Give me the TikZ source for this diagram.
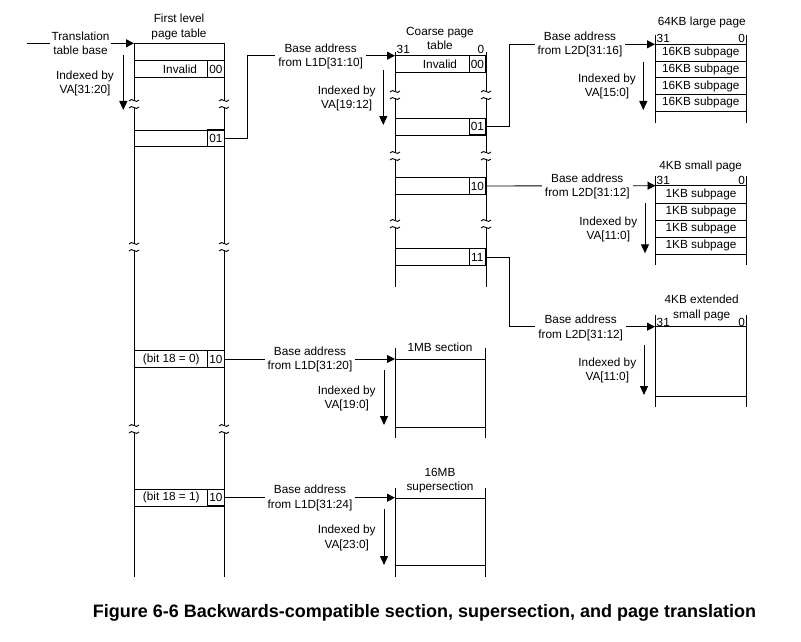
\documentclass[tikz,border=0pt]{standalone}
\usepackage{fontspec}
\setmainfont{Liberation Sans}
\usetikzlibrary{arrows.meta}
\newcommand{\tld}[2]{\draw[tline] ({#1-5},{#2+0.5}) .. controls ({#1-2},{#2-4}) and ({#1+2},{#2+4}) .. ({#1+5},{#2-0.5});}
\begin{document}
\begin{tikzpicture}[x=1pt,y=-1pt,
  every node/.style={font=\fontsize{11.8}{14.3}\selectfont, inner sep=0pt},
  tline/.style={line width=0.9pt, draw=black},
  conn/.style={line width=0.9pt, draw=black, -{Triangle[length=8pt,width=8pt]}},
  dnarrow/.style={line width=0.9pt, draw=black, -{Triangle[length=9pt,width=8pt]}},
  lbl/.style={fill=white, align=center, inner xsep=3pt, inner ysep=1pt},
  idx/.style={align=center},
  ttl/.style={align=center},
  cell/.style={draw=black, line width=0.9pt, minimum width=16.3pt, minimum height=16.4pt, inner sep=0pt},
  bitn/.style={inner sep=0pt}
]
\useasboundingbox (0,0) rectangle (801,642);

% ---------------- First level page table ----------------
\node[ttl] (fttitle) at (179,27) {First level\\page table};
\draw[tline] (134,43.3) -- (224,43.3);
\foreach \x in {134,224}{
  \draw[tline] (\x,43.3) -- (\x,100.5);
  \draw[tline] (\x,107.5) -- (\x,243.5);
  \draw[tline] (\x,250.5) -- (\x,425.5);
  \draw[tline] (\x,432.5) -- (\x,576.7);
  \tld{\x}{100.5}\tld{\x}{107.5}
  \tld{\x}{243.5}\tld{\x}{250.5}
  \tld{\x}{425.5}\tld{\x}{432.5}
}
\draw[tline] (134,60.7) rectangle (224,77.3);
\node (ftinv) at (180,69) {Invalid};
\node[cell] (ft00) at (215.85,69) {00};
\draw[tline] (134,130) rectangle (224,146);
\node[cell] (ft01) at (215.85,138) {01};
\draw[tline] (134,350.7) rectangle (224,367.3);
\node (ftb0) at (171.3,359) {(bit 18 = 0)};
\node[cell] (ft10a) at (215.85,359) {10};
\draw[tline] (134,489.3) rectangle (224,506);
\node (ftb1) at (171.3,497.7) {(bit 18 = 1)};
\node[cell] (ft10b) at (215.85,497.7) {10};

% translation table base
\coordinate (ttbstart) at (27,43.3);
\coordinate (ftin) at (134,43.3);
\draw[conn] (ttbstart) -- (ftin);
\node[lbl, inner xsep=1.5pt] (ttb) at (80.5,43) {Translation\\table base};
\coordinate (ftidxA) at (123.3,55);
\coordinate (ftidxB) at (123.3,110);
\draw[dnarrow] (ftidxA) -- (ftidxB);
\node[idx] (ftidx) at (85,83.2) {Indexed by\\VA[31:20]};

% ---------------- Coarse page table ----------------
\node[ttl] (cttitle) at (440,38.7) {Coarse page\\table};
\node[anchor=west] (ct31) at (396.5,49.5) {31};
\node[anchor=east] (ct0) at (484.5,49.5) {0};
\draw[tline] (395,55.7) -- (486,55.7);
\foreach \x in {395,486}{
  \draw[tline] (\x,51.7) -- (\x,91.5);
  \draw[tline] (\x,98.5) -- (\x,152.5);
  \draw[tline] (\x,159.5) -- (\x,220.5);
  \draw[tline] (\x,227.5) -- (\x,287.3);
  \tld{\x}{91.5}\tld{\x}{98.5}
  \tld{\x}{152.5}\tld{\x}{159.5}
  \tld{\x}{220.5}\tld{\x}{227.5}
}
\draw[tline] (395,55.7) rectangle (486,72.3);
\node (ctinv) at (440,64) {Invalid};
\node[cell] (ct00) at (477.35,64) {00};
\draw[tline] (395,118.3) rectangle (486,135);
\node[cell] (ct01) at (477.35,126.7) {01};
\draw[tline] (395,177.7) rectangle (486,194.3);
\node[cell] (ct10) at (477.35,186) {10};
\draw[tline] (395,248.3) rectangle (486,265.7);
\node[cell] (ct11) at (477.35,257) {11};

\coordinate (ctin) at (395,55.7);
\draw[conn] (ft01.east) -- (247.5,138) |- (ctin);
\node[lbl] (l1d1) at (320.7,56.2) {Base address\\from L1D[31:10]};
\coordinate (ctidxA) at (383.3,70);
\coordinate (ctidxB) at (383.3,125);
\draw[dnarrow] (ctidxA) -- (ctidxB);
\node[idx] (ctidx) at (346.7,98.7) {Indexed by\\VA[19:12]};

% ---------------- 64KB large page ----------------
\node[ttl] (lptitle) at (701.7,22.7) {64KB large page};
\node[anchor=west] (lp31) at (656.5,38.5) {31};
\node[anchor=east] (lp0) at (745.2,38.5) {0};
\draw[tline] (655,35) -- (655,123.3);
\draw[tline] (746.7,35) -- (746.7,123.3);
\foreach \y in {44.3,61,77.7,94.3,111}{\draw[tline] (655,\y) -- (746.7,\y);}
\node (lpa) at (700.8,52.7) {16KB subpage};
\node (lpb) at (700.8,69.4) {16KB subpage};
\node (lpc) at (700.8,86) {16KB subpage};
\node (lpd) at (700.8,102.7) {16KB subpage};
\coordinate (lpin) at (655,44.3);
\draw[conn] (ct01.east) -- (509.3,126.7) |- (lpin);
\node[lbl] (l2d1) at (580,44.7) {Base address\\from L2D[31:16]};
\coordinate (lpidxA) at (643.3,61.7);
\coordinate (lpidxB) at (643.3,110);
\draw[dnarrow] (lpidxA) -- (lpidxB);
\node[idx] (lpidx) at (607,86.3) {Indexed by\\VA[15:0]};

% ---------------- 4KB small page ----------------
\node[ttl] (sptitle) at (700.7,166.7) {4KB small page};
\node[anchor=west] (sp31) at (656.5,180.5) {31};
\node[anchor=east] (sp0) at (745.2,180.5) {0};
\draw[tline] (655.5,176) -- (655.5,265);
\draw[tline] (746.7,176) -- (746.7,265);
\foreach \y in {185.7,203.3,220.3,237.3,254.3}{\draw[tline] (655.5,\y) -- (746.7,\y);}
\node (spa) at (701,194.5) {1KB subpage};
\node (spb) at (701,211.8) {1KB subpage};
\node (spc) at (701,228.8) {1KB subpage};
\node (spd) at (701,245.8) {1KB subpage};
\coordinate (spin) at (655.5,185.7);
\draw[conn] (ct10.east) -- (spin);
\node[lbl] (l2d2) at (587.3,186.5) {Base address\\from L2D[31:12]};
\coordinate (spidxA) at (645,203.3);
\coordinate (spidxB) at (645,253.3);
\draw[dnarrow] (spidxA) -- (spidxB);
\node[idx] (spidx) at (608.3,229.5) {Indexed by\\VA[11:0]};

% ---------------- 4KB extended small page ----------------
\node[ttl] (eptitle) at (701.7,308) {4KB extended\\small page};
\node[anchor=west] (ep31) at (656.5,322.5) {31};
\node[anchor=east] (ep0) at (745.2,322.5) {0};
\draw[tline] (655,315) -- (655,406.7);
\draw[tline] (746.7,315) -- (746.7,406.7);
\draw[tline] (655,326.7) -- (746.7,326.7);
\draw[tline] (655,396) -- (746.7,396);
\coordinate (epin) at (655,326.7);
\draw[conn] (ct11.east) -- (509.3,257) |- (epin);
\node[lbl] (l2d3) at (580.7,328) {Base address\\from L2D[31:12]};
\coordinate (epidxA) at (644,345);
\coordinate (epidxB) at (644,395);
\draw[dnarrow] (epidxA) -- (epidxB);
\node[idx] (epidx) at (607.3,370.5) {Indexed by\\VA[11:0]};

% ---------------- 1MB section ----------------
\node[ttl] (s1title) at (440,347.5) {1MB section};
\draw[tline] (395,348) -- (395,438.3);
\draw[tline] (485.7,348) -- (485.7,438.3);
\draw[tline] (395,359) -- (485.7,359);
\draw[tline] (395,427.7) -- (485.7,427.7);
\coordinate (s1in) at (395,359);
\draw[conn] (ft10a.east) -- (s1in);
\node[lbl] (l1d2) at (310,359.2) {Base address\\from L1D[31:20]};
\coordinate (s1idxA) at (384,370);
\coordinate (s1idxB) at (384,425);
\draw[dnarrow] (s1idxA) -- (s1idxB);
\node[idx] (s1idx) at (346.7,398.7) {Indexed by\\VA[19:0]};

% ---------------- 16MB supersection ----------------
\node[ttl] (s16title) at (440,480.5) {16MB\\supersection};
\draw[tline] (395,487.7) -- (395,576.7);
\draw[tline] (485.7,487.7) -- (485.7,576.7);
\draw[tline] (395,498.3) -- (485.7,498.3);
\draw[tline] (395,565.7) -- (485.7,565.7);
\coordinate (s16in) at (395,497.7);
\draw[conn] (ft10b.east) -- (s16in);
\node[lbl] (l1d3) at (310,497.8) {Base address\\from L1D[31:24]};
\coordinate (s16idxA) at (384,509.3);
\coordinate (s16idxB) at (384,565);
\draw[dnarrow] (s16idxA) -- (s16idxB);
\node[idx] (s16idx) at (346.7,537.8) {Indexed by\\VA[23:0]};

% ---------------- Caption ----------------
\node[font=\fontsize{18}{21}\selectfont\bfseries] (caption) at (424.5,613)
  {Figure 6-6 Backwards-compatible section, supersection, and page translation};
\end{tikzpicture}
\end{document}
